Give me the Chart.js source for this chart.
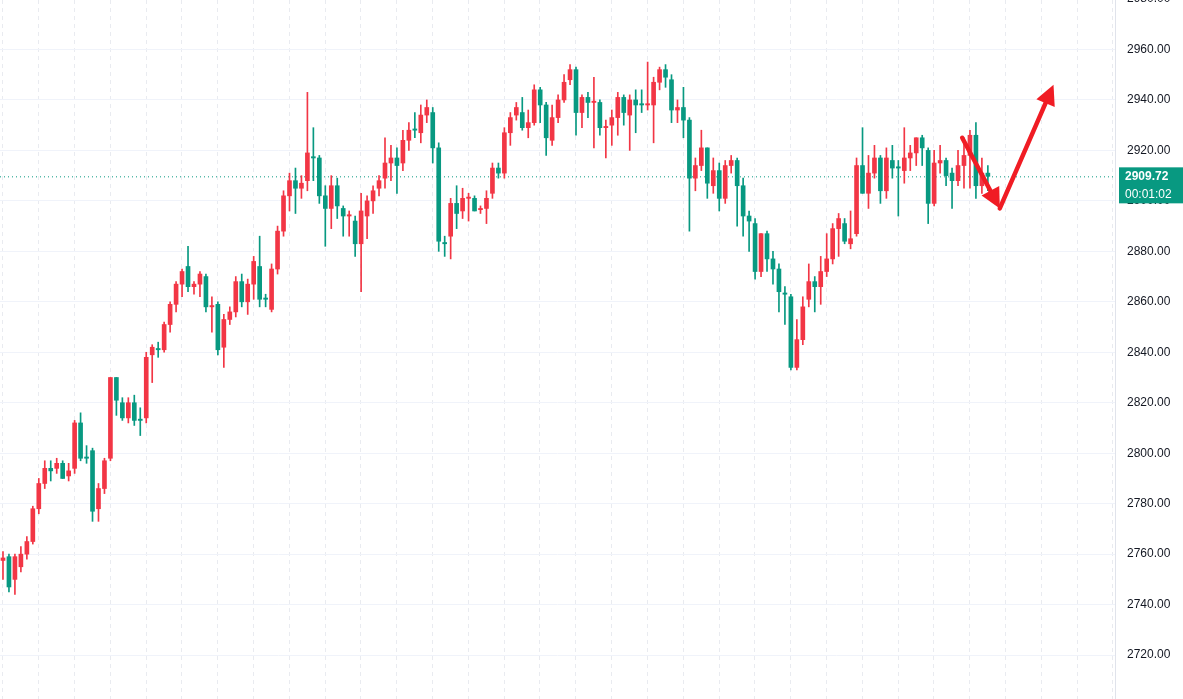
<!DOCTYPE html>
<html><head><meta charset="utf-8">
<script src="https://cdn.jsdelivr.net/npm/chart.js@4"></script>
<style>html,body{margin:0;padding:0;background:#fff;overflow:hidden}canvas{display:block}</style>
</head><body><canvas id="c" width="1183" height="699"></canvas>
<script>
const opens=[2757.5,2759,2750,2755,2760,2765,2778,2788,2794,2794,2796,2791,2794,2812,2798.5,2801,2778,2786,2798,2830,2820,2814,2820,2813.5,2814,2839,2841.5,2841,2851,2859,2867,2874,2866,2867,2870,2858,2859,2842,2853,2856,2868,2860,2867,2874,2861.5,2857,2873,2888,2902,2908,2905,2908,2917.5,2917,2902,2897,2906,2897,2894,2892,2883,2894,2900,2905,2909,2915,2917,2915,2924,2928.5,2927,2934,2935,2921,2883.5,2886,2899,2896,2901,2901,2896.5,2897,2903,2913,2911,2927,2934,2935,2929,2931,2944,2938,2924,2933,2940,2948,2952,2935,2941,2939,2939,2929,2930,2933,2941,2934,2940,2938.5,2938,2938,2947,2952,2948,2936,2937,2932,2909,2914,2921,2906,2912,2901,2914,2916,2906,2894,2891,2872,2887,2877,2873,2863.5,2862,2834,2845,2861,2868,2866,2872,2877,2889,2891,2883,2887,2914,2903,2911,2917,2904,2916,2913.5,2912,2917,2919,2925,2920,2899,2915,2916,2911,2908,2914,2918,2926,2906,2911];
const highs=[2761,2760,2760,2763,2767,2779,2790,2797,2797,2798,2797,2796,2813,2816,2803,2802,2788,2798,2830,2830,2822,2822,2823,2818,2840,2843,2844,2852,2860,2868,2873,2882,2868,2872,2871,2862,2860,2855,2858,2870,2871,2869,2878,2886,2863,2875,2890,2904,2911,2913,2910,2943,2929,2918,2906,2910,2909,2898,2896,2894,2903,2902,2906,2910,2925,2922,2921,2928,2931,2935,2938,2940,2937,2923,2886,2901,2906,2905,2903,2902,2898,2904,2915,2915,2929,2935,2939,2941,2936,2946,2945,2939,2938,2942,2950,2954,2953,2942,2943,2949,2940,2932,2936,2943,2942,2942,2944,2944,2955,2949,2953,2954,2950,2940,2945,2933,2917,2928,2921,2917,2915,2916,2918,2917,2909,2896,2893,2887,2888,2880,2875,2866,2863,2853,2862,2875,2870,2878,2887,2891,2895,2893,2896,2917,2929,2918,2922,2918,2921,2922,2916,2929,2922,2925,2926,2921,2920,2922,2917,2913,2920,2925,2928,2931,2917,2914];
const lows=[2750,2745,2744,2753,2758,2764,2776,2786,2789,2792,2790,2789,2792,2797,2796,2773,2773,2784,2797,2815,2813,2812,2811,2807,2812,2828,2838,2840,2848,2856,2862,2864,2863,2862,2856,2848,2839,2834,2851,2854,2858,2855,2861,2858,2858,2856,2871,2886,2896,2895,2901,2904,2908,2899,2882,2889,2893,2886,2886,2878,2864,2885,2895,2902,2905,2908,2903,2912,2920,2925,2923,2931,2915,2880,2878,2877,2889,2893,2892,2896,2895,2891,2901,2909,2909,2922,2932,2928,2925,2930,2931,2918,2922,2931,2939,2946,2926,2929,2933,2921,2926,2917,2922,2926,2930,2920,2927,2935,2936,2923,2944,2945,2931,2931,2925,2888,2904,2912,2901,2903,2896,2899,2911,2890,2886,2880,2869,2870,2872,2867,2856,2851,2833,2833,2843,2858,2856,2859,2870,2875,2878,2883,2881,2886,2903,2897,2909,2899,2901,2909,2894,2907,2912,2914,2914,2891,2898,2911,2906,2897,2906,2905,2905,2901,2903,2904];
const closes=[2758.5,2747,2759,2760,2765,2778,2788,2794,2793,2796,2790,2793,2812,2798,2798,2777,2786,2797,2830,2821,2814,2820,2813,2813,2838,2842,2841,2851,2859,2867,2872,2866,2867,2871,2858,2858.5,2841,2853,2856,2868,2860,2867,2876,2861,2861,2873,2888,2902,2908,2905,2907,2919,2917,2902,2897,2906,2898,2894,2894.5,2883,2896,2900,2904,2908,2915,2917,2914,2924,2928,2928,2934,2937,2921,2884,2883,2899,2895,2901,2901.5,2896,2897,2901,2913,2911,2927,2933,2937,2929,2931,2944,2938,2925,2933,2940,2947,2952,2935,2941,2939,2939.5,2929,2929.5,2933,2941,2935,2940,2938,2938,2938.5,2947,2952,2949,2936,2937,2932,2909,2914,2921,2907,2912,2901,2914,2916,2906,2894,2892,2872,2887,2877,2873,2864,2863,2834,2845,2858,2868,2866,2872,2877,2889,2893,2884,2885,2914,2903,2911,2917,2904,2917,2913,2913,2917,2919,2925,2921,2899,2915,2916,2910,2908,2914,2918,2926,2906,2911,2909.72];
const yTicks=[2720,2740,2760,2780,2800,2820,2840,2860,2880,2900,2920,2940,2960,2980];
const lastPrice=2909.72, countdown="00:01:02";
const arrowPts=[[160.7,2925],[167,2897],[176,2946]];

const UP='#f23645', DN='#089981';
const col=opens.map((o,i)=>closes[i]>o?UP:DN);
const wick=opens.map((o,i)=>({x:i,y:[lows[i],highs[i]]}));
const body=opens.map((o,i)=>{let a=o,b=closes[i];if(Math.abs(a-b)<0.4){b=a+(b>=a?0.4:-0.4);}return {x:i,y:[a,b]};});

const overlay={id:'ov',
 afterLayout(ch){const a=ch.chartArea;a.top=0;a.bottom=699;
  const y=ch.scales.y;y.top=0;y.bottom=699;y.height=699;y.configure&&y.configure();
  const x=ch.scales.x;x.top=699;x.bottom=699;},
 beforeDatasetsDraw(ch){const {ctx,chartArea:a,scales:{y}}=ch;const py=y.getPixelForValue(lastPrice);
  ctx.save();ctx.strokeStyle=DN;ctx.lineWidth=1;ctx.setLineDash([1,3]);ctx.beginPath();ctx.moveTo(a.left,py+0.5);ctx.lineTo(a.right,py+0.5);ctx.stroke();ctx.restore();},
 afterDraw(ch){const {ctx,chartArea:a,scales:{x,y}}=ch;
  const P=arrowPts.map(p=>[x.getPixelForValue(p[0]),y.getPixelForValue(p[1])]);
  ctx.save();ctx.strokeStyle='#f01c24';ctx.fillStyle='#f01c24';ctx.lineWidth=4.5;ctx.lineCap='round';
  function arrow(p,q){const ang=Math.atan2(q[1]-p[1],q[0]-p[0]);const L=20,W=10;
   const bx=q[0]-L*Math.cos(ang),by=q[1]-L*Math.sin(ang);
   ctx.beginPath();ctx.moveTo(p[0],p[1]);ctx.lineTo(bx,by);ctx.stroke();
   ctx.beginPath();ctx.moveTo(q[0],q[1]);ctx.lineTo(bx+W*Math.sin(ang),by-W*Math.cos(ang));ctx.lineTo(bx-W*Math.sin(ang),by+W*Math.cos(ang));ctx.closePath();ctx.fill();}
  arrow(P[0],P[1]);arrow(P[1],P[2]);
  const py=y.getPixelForValue(lastPrice);
  ctx.fillStyle=DN;ctx.fillRect(a.right+4,py-9,64,36);
  ctx.fillStyle='#fff';ctx.font='bold 12px "Liberation Sans", Arial';ctx.textBaseline='middle';ctx.textAlign='left';
  ctx.fillText(lastPrice.toFixed(2),a.right+10,py);
  ctx.font='12px "Liberation Sans", Arial';ctx.fillText(countdown,a.right+10,py+18);
  ctx.restore();}};

new Chart(document.getElementById('c'),{type:'bar',
 data:{datasets:[
  {data:wick,backgroundColor:col,barThickness:1,grouped:false,order:2},
  {data:body,backgroundColor:col,barThickness:4,grouped:false,order:1}]},
 options:{responsive:false,animation:false,devicePixelRatio:1,
  layout:{padding:0},
  plugins:{legend:{display:false},tooltip:{enabled:false}},
  scales:{
   x:{type:'linear',min:-0.5,max:186.3,offset:false,
    afterBuildTicks(s){const t=[];for(let v=2.96;v<186;v+=6)t.push({value:v});s.ticks=t;},
    ticks:{display:false},grid:{color:'#e9ebf0',drawTicks:false},border:{display:false,dash:[4,4]},
    afterFit(s){s.height=0;}},
   y:{position:'right',min:2702.6,max:2979.6,
    afterBuildTicks(s){s.ticks=yTicks.map(v=>({value:v}));},
    ticks:{color:'#131722',font:{size:12,family:'"Liberation Sans", Arial'},padding:12,callback:v=>Number(v).toFixed(2)},
    grid:{color:'#f0f3fa',drawTicks:false},border:{display:true,color:'#e0e3eb'},
    afterFit(s){s.width=68;s.paddingTop=0;s.paddingBottom=0;}}
  }},
 plugins:[overlay]});
</script></body></html>
